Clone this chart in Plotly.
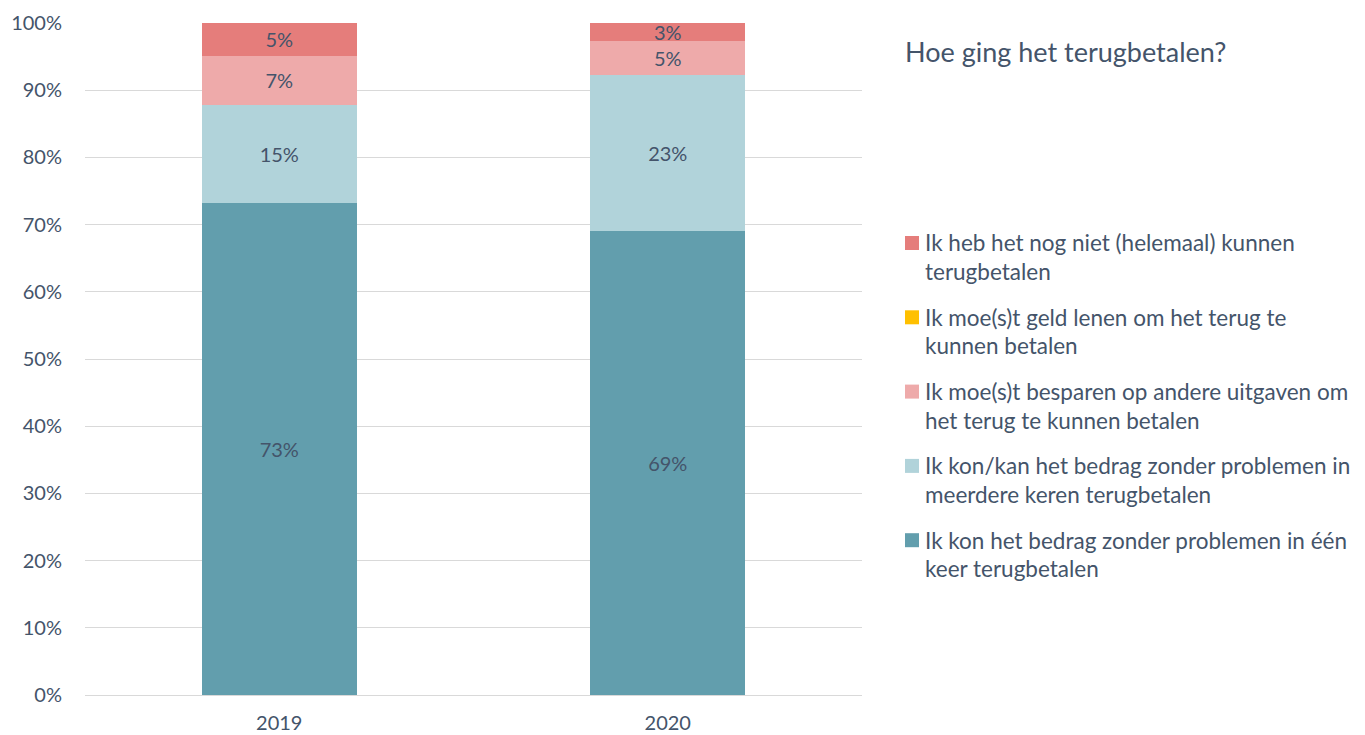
import plotly.graph_objects as go

years = ["2019", "2020"]
series_names = [
    "Ik kon het bedrag zonder problemen in één\nkeer terugbetalen",
    "Ik kon/kan het bedrag zonder problemen in\nmeerdere keren terugbetalen",
    "Ik moe(s)t besparen op andere uitgaven om\nhet terug te kunnen betalen",
    "Ik moe(s)t geld lenen om het terug te\nkunnen betalen",
    "Ik heb het nog niet (helemaal) kunnen\nterugbetalen",
]
one_time = [73.2, 69.0]
multiple = [14.6, 23.2]
saved = [7.3, 5.1]
borrowed = [0.0, 0.0]
not_yet = [4.9, 2.7]
series_values = [one_time, multiple, saved, borrowed, not_yet]
colors = ["#629EAD", "#B1D3DA", "#EEAAAA", "#FFC000", "#E57D7B"]
title_text = "Hoe ging het terugbetalen?"
y_ticks = list(range(0, 101, 10))
y_tick_labels = [f"{v}%" for v in y_ticks]

W, H = 1365, 735
L, R, T, B = 85, 862, 23, 695
font_color = "#44546A"
font_family = "Lato, 'Open Sans', sans-serif"

fig = go.Figure()
for name, vals, col in zip(series_names, series_values, colors):
    fig.add_trace(go.Bar(
        x=years, y=vals, name=name.replace("\n", " "),
        marker=dict(color=col, line=dict(width=0)),
        text=[f"{round(v)}%" if v > 0 else "" for v in vals],
        textposition="inside", insidetextanchor="middle", textangle=0,
        textfont=dict(size=20, color=font_color, family=font_family),
        hoverinfo="skip", showlegend=False,
    ))

def px_x(px):
    return (px - L) / (R - L)

def px_y(py):
    return (B - py) / (B - T)

annotations = [dict(
    text=title_text, xref="paper", yref="paper", x=px_x(903), y=px_y(52),
    xanchor="left", yanchor="middle", showarrow=False,
    font=dict(size=27, color=font_color, family=font_family),
)]
shapes = []
legend_order = list(range(len(series_names)))[::-1]
first_y = 243
step = 74.3
for i, idx in enumerate(legend_order):
    cy = first_y + i * step
    shapes.append(dict(
        type="rect", xref="paper", yref="paper",
        x0=px_x(905), x1=px_x(919), y0=px_y(cy + 7), y1=px_y(cy - 7),
        fillcolor=colors[idx], line=dict(width=0),
    ))
    for j, line in enumerate(series_names[idx].split("\n")):
        annotations.append(dict(
            text=line, xref="paper", yref="paper", x=px_x(923), y=px_y(cy + j * 28.5),
            xanchor="left", yanchor="middle", showarrow=False,
            font=dict(size=22.5, color=font_color, family=font_family),
        ))

fig.update_layout(
    width=W, height=H,
    margin=dict(l=L, r=W - R, t=T, b=H - B, pad=0, autoexpand=False),
    barmode="stack", bargap=0.6,
    plot_bgcolor="white", paper_bgcolor="white",
    font=dict(family=font_family, color=font_color),
    uniformtext=dict(minsize=20, mode="show"),
    annotations=annotations, shapes=shapes,
    showlegend=False,
    xaxis=dict(
        type="category", showgrid=False, showline=True, linecolor="#D9D9D9", linewidth=1,
        ticks="", tickfont=dict(size=20, color=font_color, family=font_family),
        ticklabelstandoff=10, automargin=False,
    ),
    yaxis=dict(
        range=[0, 100], tickmode="array", tickvals=y_ticks, ticktext=y_tick_labels,
        showgrid=True, gridcolor="#D9D9D9", gridwidth=1, zeroline=False, showline=False,
        tickfont=dict(size=20, color=font_color, family=font_family),
        ticklabelstandoff=22, automargin=False,
    ),
)

fig.write_html(
    "out.html",
    config={"displayModeBar": False},
    post_script="document.body.style.margin='0';document.body.style.overflow='hidden';",
)
